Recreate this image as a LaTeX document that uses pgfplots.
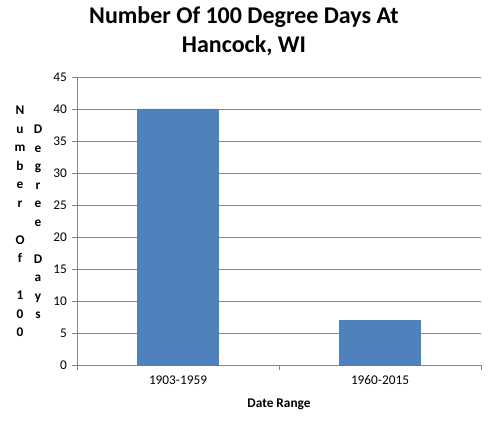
\documentclass[border=0pt]{standalone}
\usepackage{fontspec}
\setmainfont{Carlito}
\usepackage{pgfplots}
\pgfplotsset{compat=1.18}
\definecolor{barblue}{HTML}{4F81BD}
\definecolor{axgray}{HTML}{868686}
\begin{document}
\begin{tikzpicture}[x=1pt,y=1pt]
\useasboundingbox (0,0) rectangle (492,423);
\begin{axis}[
    at={(77pt,58pt)}, anchor=south west,
    scale only axis, width=404pt, height=288pt,
    xmin=0.5, xmax=2.5, ymin=0, ymax=45,
    ytick={0,5,...,45},
    xtick={0.5,1.5,2.5}, xticklabels={},
    extra x ticks={1,2},
    extra x tick labels={1903-1959,1960-2015},
    extra x tick style={major tick length=0pt, xmajorgrids=false},
    axis x line*=bottom, axis y line*=left,
    axis line style={draw=axgray, line width=0.8pt, -},
    tick align=outside, major tick length=5pt,
    tick style={draw=axgray, line width=0.8pt},
    ymajorgrids, grid style={draw=axgray, line width=0.8pt},
    ticklabel style={font=\fontsize{13.3}{16}\selectfont},
    /pgf/number format/assume math mode=true,
    xticklabel style={yshift=-7pt},
    yticklabel style={xshift=-1.5pt},
    xlabel={Date Range},
    xlabel style={font=\bfseries\fontsize{13.3}{16}\selectfont,
        at={(axis description cs:0.5,0)}, anchor=base, yshift=-42pt},
    ybar, bar width=0.4, bar shift=0pt,
]
\addplot[fill=barblue, draw=barblue] coordinates {(1,40) (2,7)};
\end{axis}
\node[anchor=base, font=\bfseries\fontsize{24}{29}\selectfont] at (244,399) {Number Of 100 Degree Days At};
\node[anchor=base, font=\bfseries\fontsize{24}{29}\selectfont] at (244,370) {Hancock, WI};
\node[anchor=north, inner sep=0pt, align=center, font=\bfseries\fontsize{13.3}{18.5}\selectfont]
  at (20,317) {N\\u\\m\\b\\e\\r\\~\\O\\f\\~\\1\\0\\0};
\node[anchor=north, inner sep=0pt, align=center, font=\bfseries\fontsize{13.3}{18.5}\selectfont]
  at (38,298) {D\\e\\g\\r\\e\\e\\~\\D\\a\\y\\s};
\end{tikzpicture}
\end{document}
